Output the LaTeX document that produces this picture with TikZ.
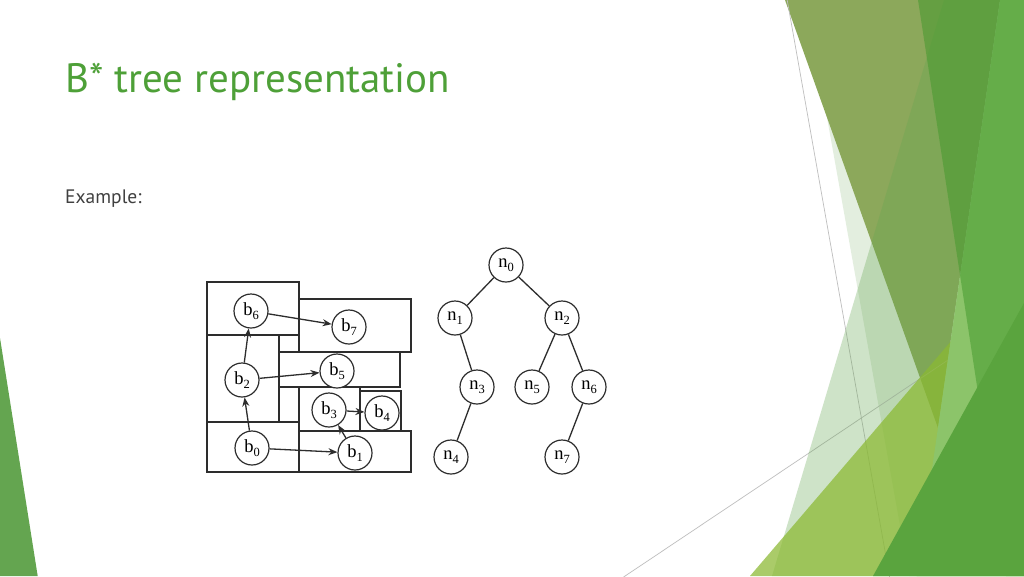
\documentclass[tikz,border=0pt]{standalone}
\usepackage{fontspec}
\setmainfont{PT Sans}
\newfontfamily\serf{Liberation Serif}
\usetikzlibrary{arrows.meta}
\definecolor{titlegreen}{RGB}{78,160,56}
\definecolor{bodygray}{RGB}{64,64,64}
\definecolor{facetA}{RGB}{100,165,80}
\definecolor{facetO}{RGB}{140,168,91}
\definecolor{facetL}{RGB}{139,185,50}
\definecolor{facetP}{RGB}{140,196,106}
\definecolor{facetQ}{RGB}{64,152,42}
\definecolor{facetT}{RGB}{90,164,62}
\definecolor{linegray}{RGB}{190,190,190}
\definecolor{inkgray}{RGB}{45,45,45}
\newcommand\sublbl[2]{{\serf\fontsize{18.5}{18.5}\selectfont #1\raisebox{-4pt}{\fontsize{12.5}{12.5}\selectfont #2}}}
\tikzset{
  blk/.style={draw=inkgray, line width=1.3pt},
  cnode/.style={circle, draw=inkgray, line width=1.2pt, fill=white, minimum size=34pt, inner sep=0pt},
  arr/.style={-{Stealth[length=9pt,width=7pt]}, line width=1.3pt, draw=inkgray},
  tedge/.style={line width=1.3pt, draw=inkgray},
  thinline/.style={draw=linegray, line width=0.7pt}
}
\begin{document}
\begin{tikzpicture}[x=1pt,y=-1pt]
\useasboundingbox (0,0) rectangle (1024,576);
\fill[white] (0,0) rectangle (1024,576);
% ---- background facets ----
\fill[facetA] (0,338) -- (37.7,576) -- (0,576) -- cycle;
\fill[facetA, fill opacity=0.18] (806,0) -- (1024,0) -- (1024,576) -- (909,576) -- cycle;
\fill[facetO] (785,0) -- (1000,0) -- (938,428) -- cycle;
\draw[thinline] (787,-1) -- (889.6,577);
\draw[thinline] (623.6,577) -- (1024,309.2);
\fill[facetA, fill opacity=0.31] (944,0) -- (1024,0) -- (1024,576) -- (772,576) -- cycle;
\fill[facetL, fill opacity=0.73] (750,576) -- (1024,256) -- (1024,576) -- cycle;
\fill[facetP] (1000,0) -- (1024,0) -- (1024,576) -- (916.5,576) -- cycle;
\fill[facetQ, fill opacity=0.5] (918,0) -- (1024,0) -- (1024,576) -- (1006,576) -- cycle;
\fill[facetT] (873,576) -- (1024,303) -- (1024,576) -- cycle;
% ---- texts ----
\node[anchor=base west, inner sep=0pt, text=titlegreen, font=\fontsize{41}{48}\selectfont] (title) at (65,92) {B* tree representation};
\node[anchor=base west, inner sep=0pt, text=bodygray, font=\fontsize{19.5}{23}\selectfont] (example) at (65,203.5) {Example:};
% ---- floorplan blocks ----
\draw[blk] (207,282) rectangle (299,335);
\draw[blk] (299,299) rectangle (411,352);
\draw[blk] (207,335) rectangle (279,422);
\draw[blk] (279,352) rectangle (400,387);
\draw[blk] (299,387) rectangle (360,431);
\draw[blk] (360,391) rectangle (401,431);
\draw[blk] (207,422) rectangle (299,472);
\draw[blk] (299,431) rectangle (411,472);
% ---- floorplan circles ----
\node[cnode] (b6) at (251,311) {\sublbl{b}{6}};
\node[cnode] (b7) at (349,327) {\sublbl{b}{7}};
\node[cnode] (b2) at (242,380) {\sublbl{b}{2}};
\node[cnode] (b5) at (337,371) {\sublbl{b}{5}};
\node[cnode] (b3) at (329,410) {\sublbl{b}{3}};
\node[cnode] (b4) at (382,413) {\sublbl{b}{4}};
\node[cnode] (b0) at (252,448) {\sublbl{b}{0}};
\node[cnode] (b1) at (355,453) {\sublbl{b}{1}};
\draw[arr] (b0) -- (b2);
\draw[arr] (b2) -- (b6);
\draw[arr] (b6) -- (b7);
\draw[arr] (b2) -- (b5);
\draw[arr] (b0) -- (b1);
\draw[arr] (b1) -- (b3);
\draw[arr] (b3) -- (b4);
% ---- tree ----
\node[cnode] (n0) at (506,265) {\sublbl{n}{0}};
\node[cnode] (n1) at (455,318) {\sublbl{n}{1}};
\node[cnode] (n2) at (562,318) {\sublbl{n}{2}};
\node[cnode] (n3) at (477,387) {\sublbl{n}{3}};
\node[cnode] (n5) at (532,387) {\sublbl{n}{5}};
\node[cnode] (n6) at (589,387) {\sublbl{n}{6}};
\node[cnode] (n4) at (451,457) {\sublbl{n}{4}};
\node[cnode] (n7) at (562,457) {\sublbl{n}{7}};
\draw[tedge] (n0) -- (n1);
\draw[tedge] (n0) -- (n2);
\draw[tedge] (n1) -- (n3);
\draw[tedge] (n3) -- (n4);
\draw[tedge] (n2) -- (n5);
\draw[tedge] (n2) -- (n6);
\draw[tedge] (n6) -- (n7);
\end{tikzpicture}
\end{document}
